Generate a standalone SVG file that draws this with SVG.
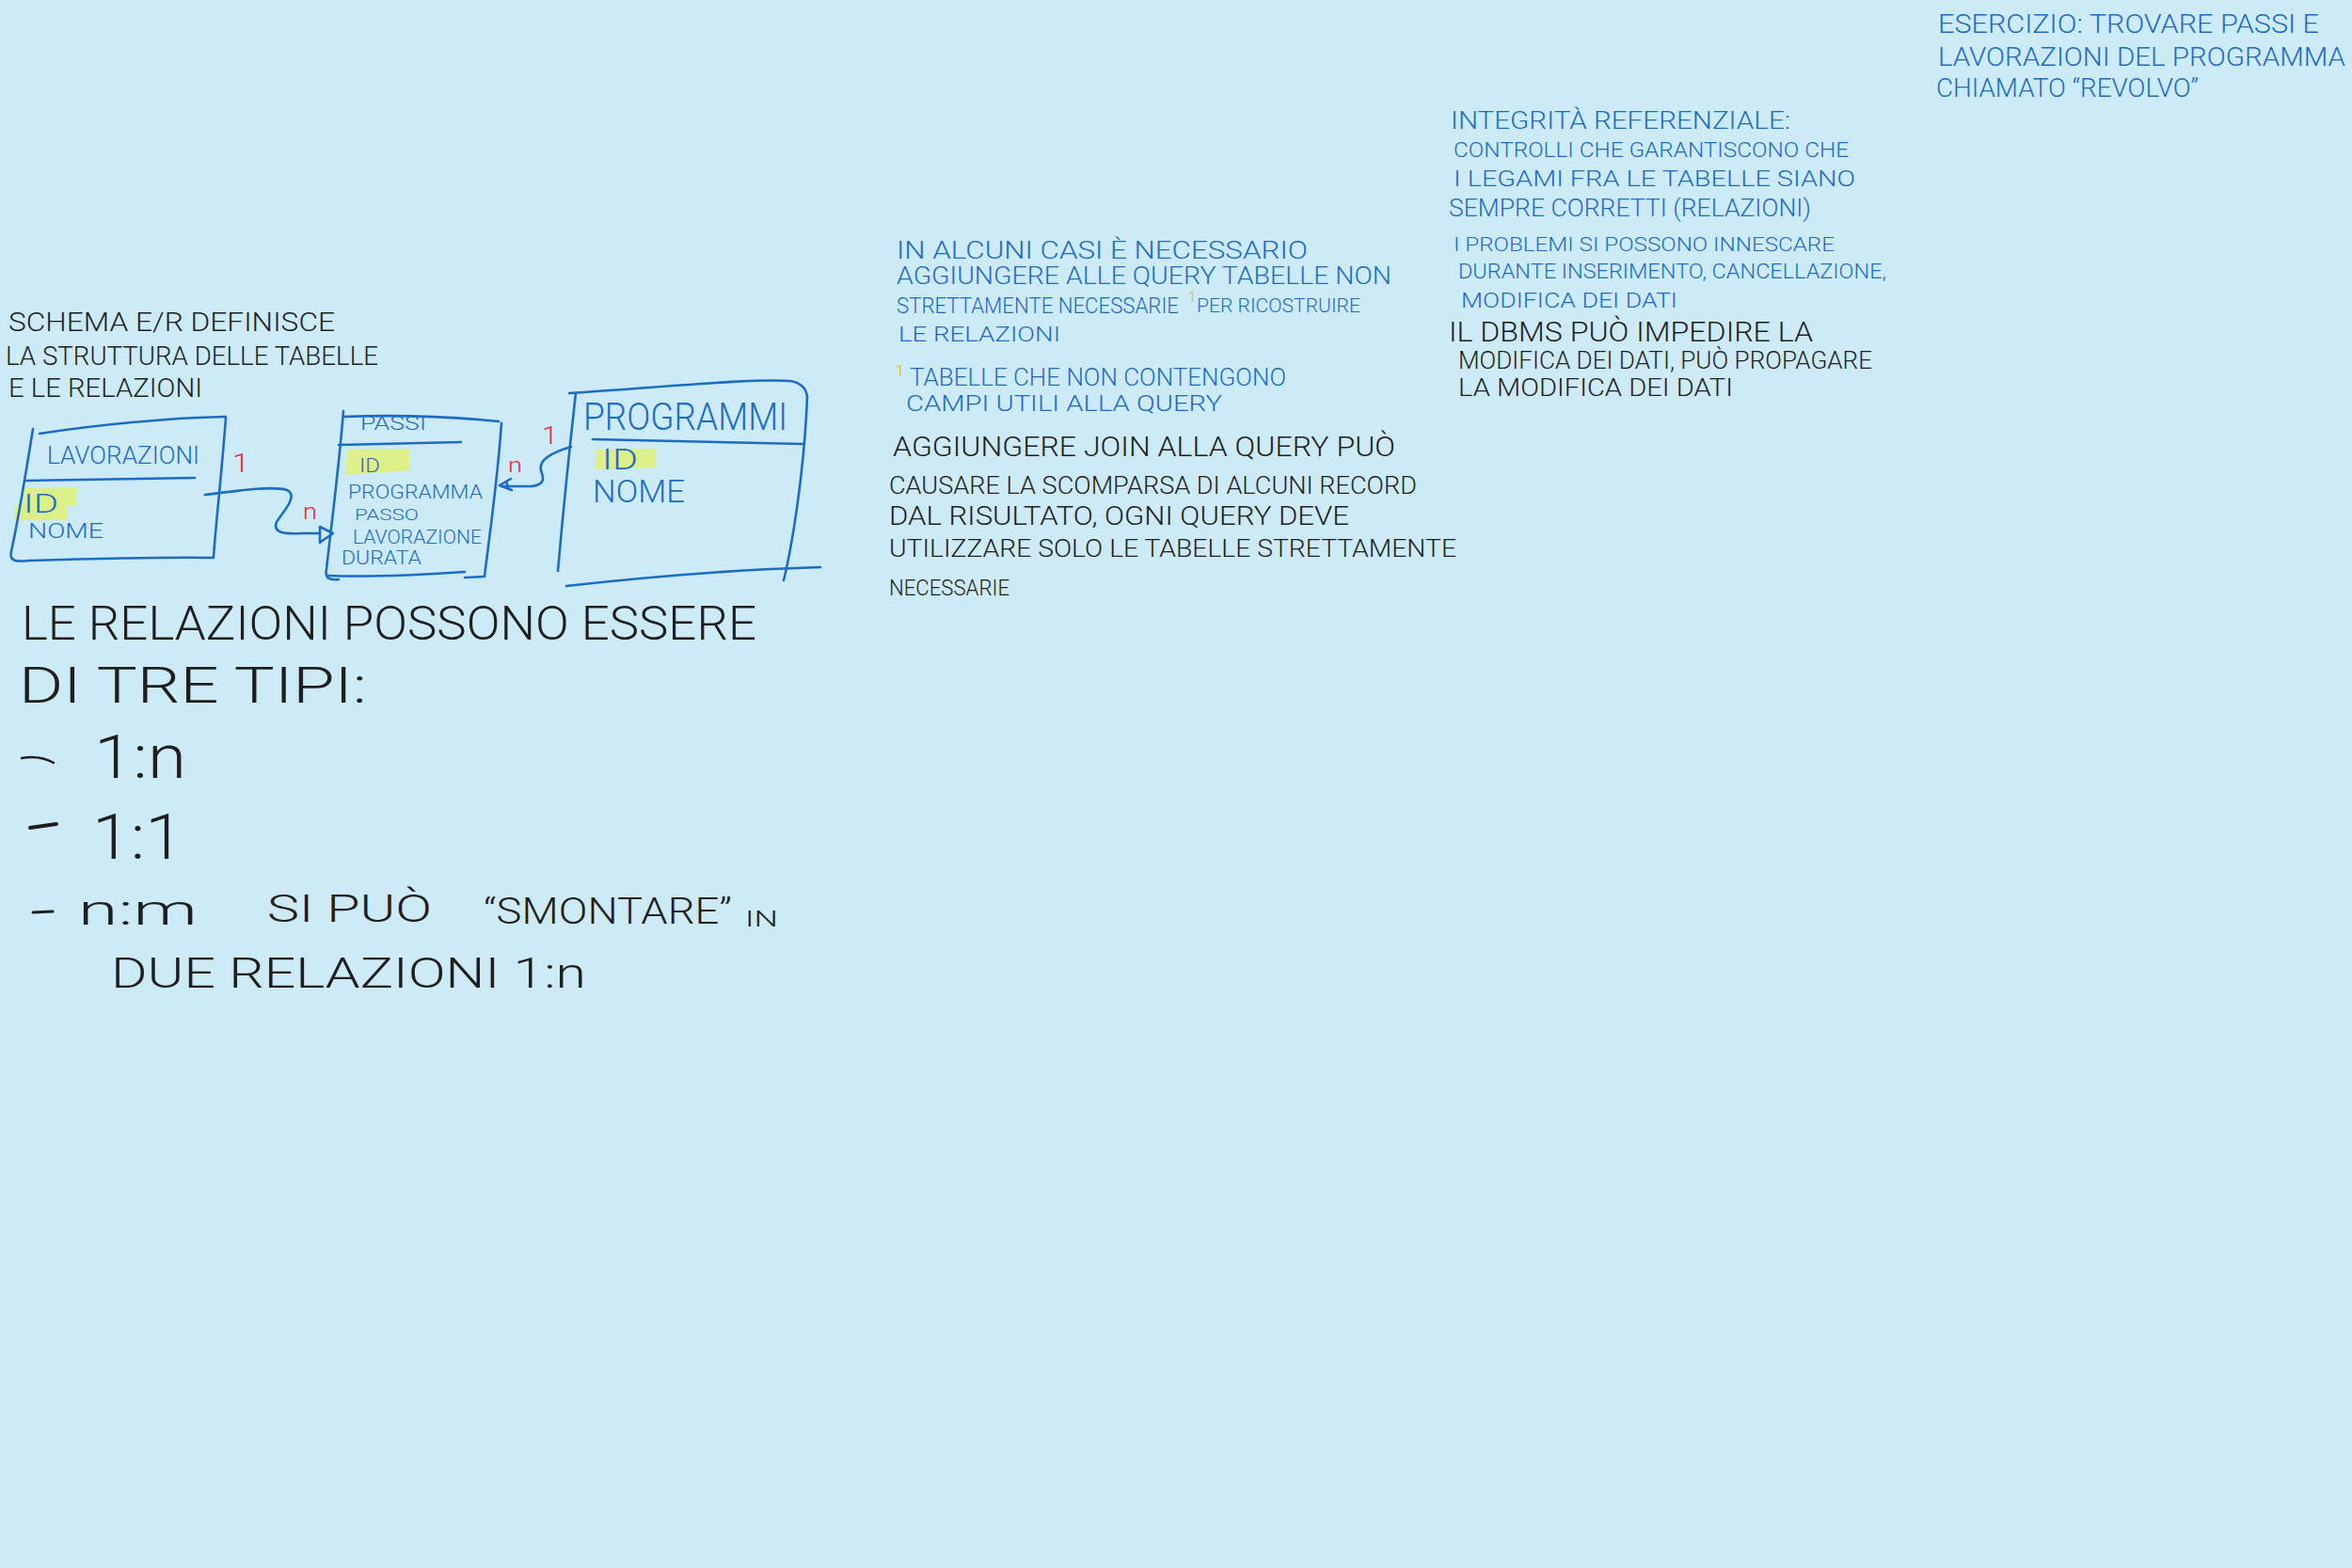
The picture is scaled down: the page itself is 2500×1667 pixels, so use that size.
<svg xmlns="http://www.w3.org/2000/svg" width="2500" height="1667" viewBox="0 0 2500 1667">
<defs>
<style>
.t{font-family:Roboto,"Liberation Sans",Arial,sans-serif;font-weight:300}
.b{fill:#1d6cc4}
.k{fill:#1e1e1e}
.r{fill:#e5283a}
.o{fill:#f0a21c}
.ln{fill:none;stroke:#1d6cc4;stroke-width:2.6;stroke-linecap:round;stroke-linejoin:round}
.hl{fill:#dff07c;opacity:0.9}
</style>
</defs>
<rect x="0" y="0" width="2500" height="1667" fill="#cdebf6"/>

<!-- notes left -->
<g id="note-schema" class="t k">
<text x="9" y="352" font-size="28" textLength="347" lengthAdjust="spacingAndGlyphs">SCHEMA E/R DEFINISCE</text>
<text x="6" y="388" font-size="28" textLength="396" lengthAdjust="spacingAndGlyphs">LA STRUTTURA DELLE TABELLE</text>
<text x="9" y="422" font-size="28" textLength="206" lengthAdjust="spacingAndGlyphs">E LE RELAZIONI</text>
</g>

<!-- node: LAVORAZIONI -->
<g id="node-lavorazioni">
<path class="hl" d="M25,519 L82,518 L82,537 L72,538 L72,553 L15,553 L15,537 L25,536 Z"/>
<path class="ln" d="M42,461 C100,452 180,444 240,443"/>
<path class="ln" d="M240,444 C236,500 230,550 227,592"/>
<path class="ln" d="M35,456 C28,500 20,550 12,586 C10,595 14,598 30,596 C100,594 180,592 227,593"/>
<path class="ln" d="M27,511 L207,508"/>
<text class="t b" x="50" y="493" font-size="26" textLength="162" lengthAdjust="spacingAndGlyphs">LAVORAZIONI</text>
<text class="t b" x="25" y="545" font-size="28" textLength="37" lengthAdjust="spacingAndGlyphs">ID</text>
<text class="t b" x="30" y="572" font-size="22" textLength="80" lengthAdjust="spacingAndGlyphs">NOME</text>
</g>

<!-- node: PASSI -->
<g id="node-passi">
<path class="hl" d="M369,478 L435,477 L435,500 L410,502 L367,505 Z"/>
<path class="ln" d="M365,437 C360,500 352,560 347,605 C345,615 350,617 360,616"/>
<path class="ln" d="M365,443 C420,441 480,443 530,448"/>
<path class="ln" d="M533,450 C528,520 520,570 515,613"/>
<path class="ln" d="M348,612 C400,614 450,611 494,608"/>
<path class="ln" d="M494,614 L514,613"/>
<path class="ln" d="M360,473 L490,470"/>
<text class="t b" x="383" y="457" font-size="20" textLength="70" lengthAdjust="spacingAndGlyphs">PASSI</text>
<text class="t b" x="382" y="502" font-size="20" textLength="22" lengthAdjust="spacingAndGlyphs">ID</text>
<text class="t b" x="370" y="530" font-size="21" textLength="143" lengthAdjust="spacingAndGlyphs">PROGRAMMA</text>
<text class="t b" x="377" y="553" font-size="16" textLength="68" lengthAdjust="spacingAndGlyphs">PASSO</text>
<text class="t b" x="375" y="578" font-size="20" textLength="137" lengthAdjust="spacingAndGlyphs">LAVORAZIONE</text>
<text class="t b" x="363" y="600" font-size="20" textLength="85" lengthAdjust="spacingAndGlyphs">DURATA</text>
</g>

<!-- node: PROGRAMMI -->
<g id="node-programmi">
<path class="hl" d="M634,478 L697,477 L697,497 L632,499 Z"/>
<path class="ln" d="M605,418 C700,412 800,402 840,405 C852,407 857,413 858,422"/>
<path class="ln" d="M612,418 C605,480 598,550 593,607"/>
<path class="ln" d="M858,422 C855,500 842,580 833,617"/>
<path class="ln" d="M602,623 C700,612 800,605 872,603"/>
<path class="ln" d="M630,467 L853,472"/>
<text class="t b" x="620" y="457" font-size="40" textLength="217" lengthAdjust="spacingAndGlyphs">PROGRAMMI</text>
<text class="t b" x="640" y="499" font-size="32" textLength="38" lengthAdjust="spacingAndGlyphs">ID</text>
<text class="t b" x="630" y="534" font-size="34" textLength="98" lengthAdjust="spacingAndGlyphs">NOME</text>
</g>

<!-- connectors -->
<g id="connectors">
<path class="ln" d="M218,526 C250,522 290,516 305,521 C318,527 300,545 294,555 C290,566 300,568 320,567 L340,567"/>
<path class="ln" d="M340,560 L340,577 M340,560 L354,567 L341,576"/>
<path class="ln" d="M607,475 C590,480 572,488 575,500 C578,508 580,515 565,517 L533,517"/>
<path class="ln" d="M531,516 L543,509 M531,516 L544,521 M538,512 L541,520"/>
<text class="t r" x="247" y="502" font-size="28" textLength="18" lengthAdjust="spacingAndGlyphs">1</text>
<text class="t r" x="322" y="552" font-size="24" textLength="15" lengthAdjust="spacingAndGlyphs">n</text>
<text class="t r" x="540" y="502" font-size="22" textLength="15" lengthAdjust="spacingAndGlyphs">n</text>
<text class="t r" x="576" y="472" font-size="26" textLength="17" lengthAdjust="spacingAndGlyphs">1</text>
</g>

<!-- notes: relations -->
<g id="note-relazioni" class="t k">
<text x="23" y="680" font-size="50" textLength="781" lengthAdjust="spacingAndGlyphs">LE RELAZIONI POSSONO ESSERE</text>
<text x="20" y="747" font-size="54" textLength="370" lengthAdjust="spacingAndGlyphs">DI TRE TIPI:</text>
<path d="M23,806 C35,804 48,806 57,811" fill="none" stroke="#1e1e1e" stroke-width="2.5" stroke-linecap="round"/>
<text x="100" y="827" font-size="64" textLength="98" lengthAdjust="spacingAndGlyphs">1:n</text>
<path d="M32,880 L60,876" fill="none" stroke="#1e1e1e" stroke-width="4" stroke-linecap="round"/>
<text x="98" y="913" font-size="66" textLength="97" lengthAdjust="spacingAndGlyphs">1:1</text>
<path d="M35,970 L56,969" fill="none" stroke="#1e1e1e" stroke-width="3" stroke-linecap="round"/>
<text x="83" y="983" font-size="44" textLength="127" lengthAdjust="spacingAndGlyphs">n:m</text>
<text x="284" y="980" font-size="40" textLength="175" lengthAdjust="spacingAndGlyphs">SI PUÒ</text>
<text x="514" y="982" font-size="38" textLength="264" lengthAdjust="spacingAndGlyphs">“SMONTARE”</text>
<text x="792" y="985" font-size="24" textLength="35" lengthAdjust="spacingAndGlyphs">IN</text>
<text x="118" y="1050" font-size="44" textLength="505" lengthAdjust="spacingAndGlyphs">DUE RELAZIONI 1:n</text>
</g>

<!-- notes: middle -->
<g id="note-query" class="t">
<text class="b" x="953" y="275" font-size="26" textLength="437" lengthAdjust="spacingAndGlyphs">IN ALCUNI CASI È NECESSARIO</text>
<text class="b" x="953" y="302" font-size="25" textLength="526" lengthAdjust="spacingAndGlyphs">AGGIUNGERE ALLE QUERY TABELLE NON</text>
<text class="b" x="953" y="333" font-size="23" textLength="300" lengthAdjust="spacingAndGlyphs">STRETTAMENTE NECESSARIE</text>
<text class="o" x="1263" y="321" font-size="14" textLength="8" lengthAdjust="spacingAndGlyphs">1</text>
<text class="b" x="1272" y="332" font-size="21" textLength="174" lengthAdjust="spacingAndGlyphs">PER RICOSTRUIRE</text>
<text class="b" x="955" y="363" font-size="22" textLength="172" lengthAdjust="spacingAndGlyphs">LE RELAZIONI</text>
<text class="o" x="952" y="400" font-size="16" textLength="9" lengthAdjust="spacingAndGlyphs">1</text>
<text class="b" x="967" y="410" font-size="26" textLength="400" lengthAdjust="spacingAndGlyphs">TABELLE CHE NON CONTENGONO</text>
<text class="b" x="963" y="437" font-size="24" textLength="336" lengthAdjust="spacingAndGlyphs">CAMPI UTILI ALLA QUERY</text>
<text class="k" x="949" y="485" font-size="30" textLength="534" lengthAdjust="spacingAndGlyphs">AGGIUNGERE JOIN ALLA QUERY PUÒ</text>
<text class="k" x="945" y="525" font-size="26" textLength="561" lengthAdjust="spacingAndGlyphs">CAUSARE LA SCOMPARSA DI ALCUNI RECORD</text>
<text class="k" x="945" y="558" font-size="28" textLength="489" lengthAdjust="spacingAndGlyphs">DAL RISULTATO, OGNI QUERY DEVE</text>
<text class="k" x="945" y="592" font-size="26" textLength="603" lengthAdjust="spacingAndGlyphs">UTILIZZARE SOLO LE TABELLE STRETTAMENTE</text>
<text class="k" x="945" y="633" font-size="24" textLength="128" lengthAdjust="spacingAndGlyphs">NECESSARIE</text>
</g>

<!-- notes: integrity -->
<g id="note-integrita" class="t">
<text class="b" x="1542" y="137" font-size="26" textLength="361" lengthAdjust="spacingAndGlyphs">INTEGRITÀ REFERENZIALE:</text>
<text class="b" x="1545" y="167" font-size="22" textLength="420" lengthAdjust="spacingAndGlyphs">CONTROLLI CHE GARANTISCONO CHE</text>
<text class="b" x="1545" y="198" font-size="24" textLength="427" lengthAdjust="spacingAndGlyphs">I LEGAMI FRA LE TABELLE SIANO</text>
<text class="b" x="1540" y="230" font-size="26" textLength="385" lengthAdjust="spacingAndGlyphs">SEMPRE CORRETTI (RELAZIONI)</text>
<text class="b" x="1545" y="267" font-size="20" textLength="405" lengthAdjust="spacingAndGlyphs">I PROBLEMI SI POSSONO INNESCARE</text>
<text class="b" x="1550" y="296" font-size="22" textLength="455" lengthAdjust="spacingAndGlyphs">DURANTE INSERIMENTO, CANCELLAZIONE,</text>
<text class="b" x="1553" y="327" font-size="22" textLength="230" lengthAdjust="spacingAndGlyphs">MODIFICA DEI DATI</text>
<text class="k" x="1540" y="363" font-size="30" textLength="387" lengthAdjust="spacingAndGlyphs">IL DBMS PUÒ IMPEDIRE LA</text>
<text class="k" x="1550" y="392" font-size="26" textLength="440" lengthAdjust="spacingAndGlyphs">MODIFICA DEI DATI, PUÒ PROPAGARE</text>
<text class="k" x="1550" y="421" font-size="26" textLength="292" lengthAdjust="spacingAndGlyphs">LA MODIFICA DEI DATI</text>
</g>

<!-- notes: exercise -->
<g id="note-esercizio" class="t b">
<text x="2060" y="35" font-size="28" textLength="405" lengthAdjust="spacingAndGlyphs">ESERCIZIO: TROVARE PASSI E</text>
<text x="2060" y="70" font-size="28" textLength="433" lengthAdjust="spacingAndGlyphs">LAVORAZIONI DEL PROGRAMMA</text>
<text x="2058" y="103" font-size="28" textLength="279" lengthAdjust="spacingAndGlyphs">CHIAMATO “REVOLVO”</text>
</g>
</svg>
